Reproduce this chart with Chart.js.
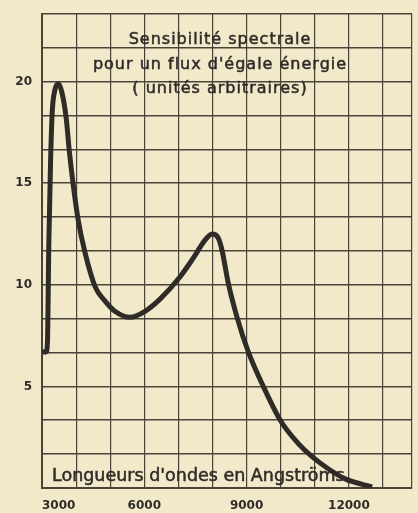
<!DOCTYPE html>
<html>
<head>
<meta charset="utf-8">
<script src="https://cdn.jsdelivr.net/npm/chart.js@4"></script>
<style>
  html, body { margin: 0; padding: 0; background: #f1e9ca; }
  canvas { display: block; }
</style>
</head>
<body>
<canvas id="spectre" width="418" height="513"></canvas>
<script>
// wavelength (Angstroms) and relative sensitivity
const wavelengths = [3000, 3120, 3160, 3200, 3250, 3300, 3380, 3480, 3580, 3710, 3800, 3910, 4060, 4260, 4560, 4850, 5140, 5580, 6020, 6460, 7050, 7430, 7780, 7990, 8170, 8280, 8460, 8720, 9050, 9490, 10000, 10510, 10920, 11390, 11890, 12680];
const sensitivity = [6.7, 6.7, 7.2, 12, 16, 18.5, 19.6, 19.9, 19.5, 18.2, 16.6, 15, 13.2, 11.6, 9.9, 9.2, 8.7, 8.4, 8.7, 9.3, 10.4, 11.3, 12.2, 12.5, 12.3, 11.7, 10.1, 8.4, 6.7, 5.0, 3.3, 2.2, 1.54, 0.95, 0.45, 0.05];

const xLabels = [3000, 6000, 9000, 12000];
const yLabels = [5, 10, 15, 20];
const titleLines = ["Sensibilité spectrale", "pour un flux d'égale énergie", "( unités arbitraires)"];
const xName = "Longueurs d'ondes en Angströms";

// graph paper: a line every 1000 A, the sheet stops at 13850
const xMin = 3000, xMax = 13850, xStep = 1000;
const xGrid = [];
for (let v = xMin; v < xMax; v += xStep) xGrid.push(v);
xGrid.push(xMax);

const ink = "#2f2b27";
const gridInk = "#4a4438";
const font = '"DejaVu Sans", sans-serif';

// titles are written inside the plot frame, a little heavier than the default weight
const innerText = {
  id: "innerText",
  afterDraw(chart) {
    const ctx = chart.ctx;
    const write = (t, x, y) => {
      ctx.fillText(t, x, y);
      ctx.strokeText(t, x, y);
    };
    ctx.save();
    ctx.fillStyle = ink;
    ctx.strokeStyle = ink;
    ctx.lineWidth = 0.5;
    ctx.textBaseline = "middle";
    ctx.textAlign = "center";
    ctx.font = "16px " + font;
    ctx.letterSpacing = "1px";
    titleLines.forEach((t, i) => write(t, 220, 40 + i * 24.5));
    ctx.textAlign = "left";
    ctx.font = "17.5px " + font;
    ctx.letterSpacing = "0px";
    write(xName, 52, 476);
    ctx.restore();
  },
};

new Chart(document.getElementById("spectre"), {
  type: "line",
  data: {
    datasets: [
      {
        data: wavelengths.map((w, i) => ({ x: w, y: sensitivity[i] })),
        borderColor: ink,
        borderWidth: 5,
        pointRadius: 0,
        cubicInterpolationMode: "monotone",
        fill: false,
      },
    ],
  },
  options: {
    responsive: false,
    animation: false,
    layout: { padding: { top: 14, right: 6, left: 0, bottom: 0 } },
    plugins: { legend: { display: false }, tooltip: { enabled: false } },
    scales: {
      x: {
        type: "linear",
        min: xMin,
        max: xMax,
        afterBuildTicks: (s) => { s.ticks = xGrid.map((v) => ({ value: v })); },
        afterFit: (s) => {
          s.height = 25;
          s.paddingLeft = 0;
          s.paddingRight = 0;
        },
        border: { color: gridInk, width: 2 },
        grid: { color: gridInk, lineWidth: 1.2, drawTicks: false },
        ticks: {
          align: "inner",
          padding: 11,
          color: ink,
          font: { family: font, size: 12, weight: "bold" },
          maxRotation: 0,
          autoSkip: false,
          callback: (v) => (xLabels.includes(v) ? String(v) : ""),
        },
      },
      y: {
        min: 0,
        max: 70 / 3,
        afterFit: (s) => {
          s.width = 42;
          s.paddingTop = 0;
          s.paddingBottom = 0;
        },
        border: { color: gridInk, width: 2 },
        grid: { color: gridInk, lineWidth: 1.6, drawTicks: false },
        ticks: {
          stepSize: 5 / 3,
          padding: 10,
          color: ink,
          font: { family: font, size: 12, weight: "bold" },
          autoSkip: false,
          callback: (v) => {
            const r = Math.round(v);
            return Math.abs(v - r) < 1e-6 && yLabels.includes(r) ? String(r) : "";
          },
        },
      },
    },
  },
  plugins: [innerText],
});
</script>
</body>
</html>
